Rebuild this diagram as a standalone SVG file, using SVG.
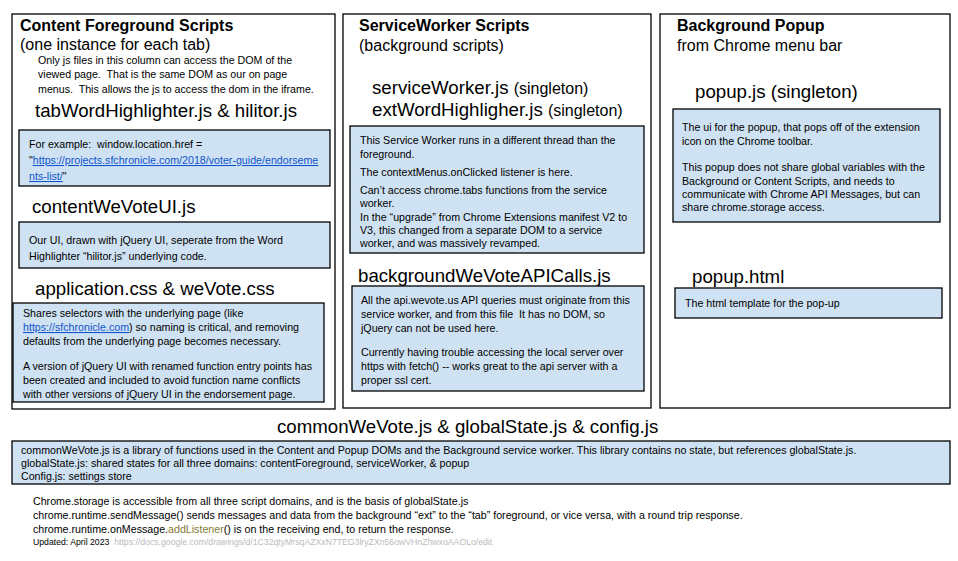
<svg xmlns="http://www.w3.org/2000/svg" width="958" height="561" viewBox="0 0 958 561" xml:space="preserve">
<style>
text{font-family:"Liberation Sans",Arial,sans-serif;fill:#000;white-space:pre}
.col{fill:#fff;stroke:#000;stroke-width:1.3}
.box{fill:#cfe2f3;stroke:#000;stroke-width:1.3}
.h{font-size:16px;font-weight:bold}
.s{font-size:16px}
.f{font-size:18.67px}
.sm{font-size:16px}
.t{font-size:10.67px}
.b{font-size:10.67px}
.lnk{fill:#1155cc;text-decoration:underline}
</style>
<rect width="958" height="561" fill="#fff"/>
<g id="content-column">
<rect class="col" x="12" y="14" width="323" height="395"/>
<text class="h" x="20" y="31">Content Foreground Scripts</text>
<text class="s" x="20" y="50">(one instance for each tab)</text>
<text class="t" x="38" y="64">Only js files in this column can access the DOM of the</text>
<text class="t" x="38" y="78">viewed page.  That is the same DOM as our on page</text>
<text class="t" x="38" y="93">menus.  This allows the js to access the dom in the iframe.</text>
<text class="f" x="35" y="117">tabWordHighlighter.js &amp; hilitor.js</text>
<rect class="box" x="19" y="130" width="311" height="56"/>
<text class="t" x="29" y="148">For example:  window.location.href =</text>
<text class="t" x="29" y="164">"<tspan class="lnk">https://projects.sfchronicle.com/2018/voter-guide/endorseme</tspan></text>
<text class="t" x="29" y="180"><tspan class="lnk">nts-list/</tspan>"</text>
<text class="f" x="32" y="213">contentWeVoteUI.js</text>
<rect class="box" x="19" y="222" width="311" height="46"/>
<text class="t" x="29" y="244">Our UI, drawn with jQuery UI, seperate from the Word</text>
<text class="t" x="29" y="260">Highlighter “hilitor.js” underlying code.</text>
<text class="f" x="35" y="295">application.css &amp; weVote.css</text>
<rect class="box" x="13" y="303" width="311" height="99"/>
<text class="t" x="23" y="317">Shares selectors with the underlying page (like</text>
<text class="t" x="23" y="331"><tspan class="lnk">https://sfchronicle.com</tspan>) so naming is critical, and removing</text>
<text class="t" x="23" y="345">defaults from the underlying page becomes necessary.</text>
<text class="t" x="23" y="370">A version of jQuery UI with renamed function entry points has</text>
<text class="t" x="23" y="384">been created and included to avoid function name conflicts</text>
<text class="t" x="23" y="398">with other versions of jQuery UI in the endorsement page.</text>
</g>
<g id="serviceworker-column">
<rect class="col" x="343" y="14" width="308" height="394"/>
<text class="h" x="359" y="31">ServiceWorker Scripts</text>
<text class="s" x="359" y="51">(background scripts)</text>
<text class="f" x="372" y="94">serviceWorker.js <tspan class="sm">(singleton)</tspan></text>
<text class="f" x="372" y="116">extWordHighligher.js <tspan class="sm">(singleton)</tspan></text>
<rect class="box" x="350" y="126" width="294" height="127"/>
<text class="t" x="360" y="144">This Service Worker runs in a different thread than the</text>
<text class="t" x="360" y="158">foreground.</text>
<text class="t" x="360" y="176">The contextMenus.onClicked listener is here.</text>
<text class="t" x="360" y="194">Can’t access chrome.tabs functions from the service</text>
<text class="t" x="360" y="207">worker.</text>
<text class="t" x="360" y="221">In the “upgrade” from Chrome Extensions manifest V2 to</text>
<text class="t" x="360" y="234">V3, this changed from a separate DOM to a service</text>
<text class="t" x="360" y="247">worker, and was massively revamped.</text>
<text class="f" x="358" y="282">backgroundWeVoteAPICalls.js</text>
<rect class="box" x="352" y="286" width="292" height="105"/>
<text class="t" x="361" y="304">All the api.wevote.us API queries must originate from this</text>
<text class="t" x="361" y="318">service worker, and from this file  It has no DOM, so</text>
<text class="t" x="361" y="332">jQuery can not be used here.</text>
<text class="t" x="361" y="356">Currently having trouble accessing the local server over</text>
<text class="t" x="361" y="370">https with fetch() -- works great to the api server with a</text>
<text class="t" x="361" y="384">proper ssl cert.</text>
</g>
<g id="popup-column">
<rect class="col" x="660" y="14" width="290" height="394"/>
<text class="h" x="677" y="31">Background Popup</text>
<text class="s" x="677" y="51">from Chrome menu bar</text>
<text class="f" x="695" y="98">popup.js (singleton)</text>
<rect class="box" x="673" y="109" width="267" height="113"/>
<text class="t" x="682" y="131">The ui for the popup, that pops off of the extension</text>
<text class="t" x="682" y="145">icon on the Chrome toolbar.</text>
<text class="t" x="682" y="171">This popup does not share global variables with the</text>
<text class="t" x="682" y="185">Background or Content Scripts, and needs to</text>
<text class="t" x="682" y="198">communicate with Chrome API Messages, but can</text>
<text class="t" x="682" y="211">share chrome.storage access.</text>
<text class="f" x="692" y="283">popup.html</text>
<rect class="box" x="675" y="288" width="267" height="30"/>
<text class="t" x="685" y="307">The html template for the pop-up</text>
</g>
<g id="common">
<text class="f" x="277" y="433">commonWeVote.js &amp; globalState.js &amp; config.js</text>
<rect class="box" x="12" y="441" width="938" height="43"/>
<text class="t" x="21" y="454">commonWeVote.js is a library of functions used in the Content and Popup DOMs and the Background service worker. This library contains no state, but references globalState.js.</text>
<text class="t" x="21" y="467">globalState.js: shared states for all three domains: contentForeground, serviceWorker, &amp; popup</text>
<text class="t" x="21" y="480">Config.js: settings store</text>
</g>
<g id="notes">
<text class="b" x="33" y="505">Chrome.storage is accessible from all three script domains, and is the basis of globalState.js</text>
<text class="b" x="33" y="519">chrome.runtime.sendMessage() sends messages and data from the background “ext” to the “tab” foreground, or vice versa, with a round trip response.</text>
<text class="b" x="33" y="533">chrome.runtime.onMessage.<tspan fill="#857a35">addListener</tspan>() is on the receiving end, to return the response.</text>
<text x="33" y="545" font-size="8.7px" fill="#555">Updated: April 2023  <tspan fill="#bbb">https://docs.google.com/drawings/d/1C32qtyMrsqAZXxN7TEG3lryZXn56owVHnZhwxoAAOLo/edit</tspan></text>
</g>
</svg>
